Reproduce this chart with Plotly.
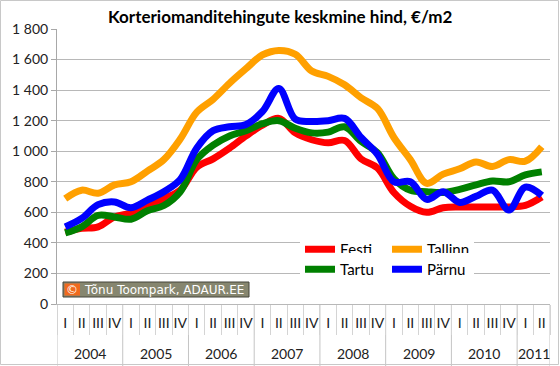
import plotly.graph_objects as go

# ---- data ----
year_labels = ["2004", "2005", "2006", "2007", "2008", "2009", "2010", "2011"]
quarters_per_year = [4, 4, 4, 4, 4, 4, 4, 2]
quarter_labels = ["I", "II", "III", "IV"]

eesti = [470, 495, 505, 570, 595, 640, 690, 745, 895, 950, 1020, 1100, 1170, 1215, 1120,
         1075, 1055, 1070, 950, 890, 730, 640, 600, 630, 635, 635, 635, 635, 645, 700]
tallinn = [690, 745, 725, 780, 800, 870, 945, 1080, 1255, 1340, 1445, 1540, 1630, 1660, 1635,
           1525, 1490, 1435, 1350, 1280, 1090, 945, 790, 850, 885, 930, 900, 945, 935, 1030]
tartu = [465, 505, 580, 570, 555, 610, 645, 735, 945, 1040, 1100, 1135, 1180, 1200, 1150,
         1120, 1125, 1160, 1065, 990, 820, 745, 735, 730, 750, 780, 805, 800, 845, 865]
parnu = [505, 560, 650, 668, 630, 680, 735, 815, 1020, 1135, 1160, 1175, 1260, 1410, 1210,
         1195, 1200, 1215, 1090, 980, 800, 800, 685, 735, 665, 705, 745, 615, 765, 710]

series = [("Eesti", eesti, "#ff0000", "legend"),
          ("Tallinn", tallinn, "#ffa000", "legend"),
          ("Tartu", tartu, "#008000", "legend2"),
          ("Pärnu", parnu, "#0000ff", "legend2")]

# category positions built from the label lists
x_text = []
year_start = []
for y, n in zip(year_labels, quarters_per_year):
    year_start.append(len(x_text))
    x_text.extend(quarter_labels[:n])
x_pos = list(range(len(x_text)))
n_cat = len(x_text)

FONT = "Lato"
fig = go.Figure()
for name, vals, color, leg in series:
    fig.add_trace(go.Scatter(
        x=x_pos, y=vals, name=name, mode="lines",
        line=dict(color=color, width=7, shape="spline", smoothing=1.0),
        legend=leg, hoverinfo="skip",
    ))

W, H = 560, 366
ml, mr, mt, mb = 57, 10, 29, 62
pw, ph = W - ml - mr, H - mt - mb

def px(xp):
    return (xp - ml) / pw

def py(yp):
    return (H - mb - yp) / ph

legend_common = dict(orientation="h", xanchor="left", yanchor="top",
                     entrywidth=42, entrywidthmode="pixels",
                     bgcolor="white", borderwidth=0,
                     font=dict(family=FONT, size=15, color="#000"),
                     itemwidth=30, tracegroupgap=0)

fig.update_layout(
    width=W, height=H,
    margin=dict(l=ml, r=mr, t=mt, b=mb),
    paper_bgcolor="white", plot_bgcolor="white",
    separators=". ",
    showlegend=True,
    legend=dict(x=px(300), y=py(233), **legend_common),
    legend2=dict(x=px(300), y=py(253), **legend_common),
    font=dict(family=FONT, size=13, color="#222"),
)

fig.update_yaxes(
    range=[0, 1800], dtick=200, separatethousands=True,
    showgrid=True, gridcolor="#b8b8b8", gridwidth=1,
    showline=True, linecolor="#a8a8a8", linewidth=1,
    ticks="outside", ticklen=5, tickcolor="#a8a8a8",
    tickfont=dict(family=FONT, size=14, color="#222"),
    zeroline=False,
)

fig.update_xaxes(
    range=[-0.5, n_cat - 0.5],
    showline=True, linecolor="#b8b8b8", linewidth=1,
    showgrid=False, zeroline=False,
    tickmode="array", tickvals=x_pos, ticktext=x_text, ticks="",
    ticklabelstandoff=6,
    tickfont=dict(family=FONT, size=14, color="#222"),
    minor=dict(tickmode="array", tickvals=[i - 0.5 for i in range(n_cat + 1)],
               ticks="outside", ticklen=30, tickcolor="#d4d4d4", tickwidth=1,
               showgrid=False),
)

# year row: labels and dividers
bounds = year_start + [n_cat]
for i, y in enumerate(year_labels):
    a, b = bounds[i], bounds[i + 1]
    fig.add_annotation(xref="x", yref="paper", x=(a + b - 1) / 2, y=py(353),
                       xanchor="center", yanchor="middle", text=y, showarrow=False,
                       font=dict(family=FONT, size=14, color="#222"))
for b in bounds:
    fig.add_shape(type="line", xref="x", yref="paper", x0=b - 0.5, x1=b - 0.5,
                  y0=0, y1=py(366), line=dict(color="#c4c4c4", width=1), layer="below")

# title with white box interrupting top gridline
fig.add_annotation(
    xref="paper", yref="paper", x=px(280), y=py(17), xanchor="center", yanchor="middle",
    text="<b>Korteriomanditehingute keskmine hind, €/m2</b>", showarrow=False,
    font=dict(family=FONT, size=17, color="#000"), bgcolor="white", borderpad=3,
)

# copyright badge
fig.add_shape(type="rect", xref="paper", yref="paper",
              x0=px(63), x1=px(249), y0=py(297), y1=py(282),
              fillcolor="#86866f", line=dict(color="#44443a", width=1), layer="above")
fig.add_shape(type="rect", xref="paper", yref="paper",
              x0=px(64.5), x1=px(80), y0=py(295.5), y1=py(283.5),
              fillcolor="#f06a1e", line=dict(width=0), layer="above")
fig.add_annotation(xref="paper", yref="paper", x=px(72.3), y=py(289.5),
                   xanchor="center", yanchor="middle", text="©", showarrow=False,
                   font=dict(family="DejaVu Sans", size=12, color="white"))
fig.add_annotation(xref="paper", yref="paper", x=px(82), y=py(289.5),
                   xanchor="left", yanchor="middle", text="Tõnu Toompark, ADAUR.EE",
                   showarrow=False, font=dict(family="DejaVu Sans", size=12, color="white"))

# outer chart border
fig.add_shape(type="rect", xref="paper", yref="paper",
              x0=px(0.5), x1=px(W - 1.5), y0=py(H - 1.5), y1=py(0.5),
              line=dict(color="#c8c8c8", width=1), layer="above")

fig.write_html(
    "out.html",
    config={"displayModeBar": False},
    post_script="document.body.style.margin='0';document.body.style.overflow='hidden';",
)
